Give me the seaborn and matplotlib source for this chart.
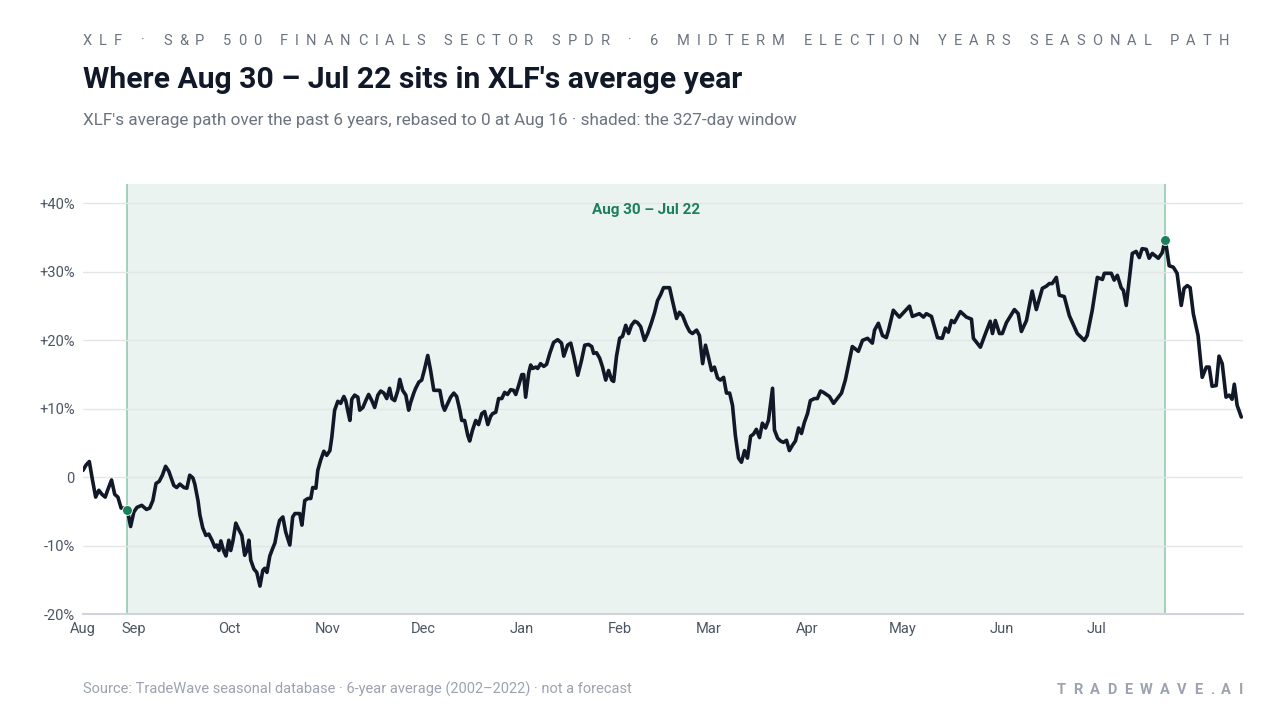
import numpy as np
import pandas as pd
import seaborn as sns
import matplotlib
matplotlib.use("Agg")
import matplotlib.pyplot as plt

# day offset from Aug 16, average % path
days = [0, 1, 2, 3, 4, 5, 6, 7, 8, 9, 10, 11, 12, 13.5, 14, 15, 16, 17, 18.5, 20, 21, 22, 23, 24, 25, 26, 27,
        28.6, 29.5, 30.5, 31.8, 32.7, 33.6, 34.6, 35.2, 36.2, 36.8, 37.7, 38.7, 39.6, 40.6, 41.5, 42.1, 42.8,
        43.4, 44.3, 45, 45.9, 46.5, 47.2, 48.1, 49.1, 50, 50.9, 51.6, 52.2, 52.8, 53.8, 54.7, 55.7, 56.6, 57.2,
        57.9, 58.8, 59.7, 60.4, 61.3, 61.9, 62.9, 63.8, 65.1, 66, 66.7, 68.2, 68.9, 69.8, 70.8, 71.7, 72.3,
        73.3, 73.9, 74.8, 75.8, 76.7, 77.7, 78.3, 79.2, 80.2, 81.1, 82.1, 82.7, 83.3, 84, 84.6, 85.5, 86.5,
        87.1, 88.1, 89, 89.9, 90.9, 91.8, 92.8, 93.7, 94.7, 95.6, 96.5, 97.2, 98.1, 99.1, 99.7, 100.6, 101.6,
        102.5, 103.1, 104.1, 104.7, 105.7, 106.6, 107.5, 108.5, 109.4, 110.4, 111.3, 112.3, 113.2, 113.8,
        114.8, 115.7, 116.7, 117.6, 118.6, 119.2, 120.1, 121.1, 121.7, 122.6, 123.6, 124.5, 125.5, 126.4,
        127.4, 128.3, 128.9, 129.9, 130.8, 131.8, 132.7, 133.6, 134.6, 135.5, 136.2, 137.1, 138.1, 138.7,
        139.3, 140.3, 140.9, 141.5, 142.5, 143.1, 144, 145, 145.9, 146.9, 148.1, 149.4, 150.6, 151.3, 152.5,
        153.5, 154.4, 155.7, 156.9, 157.9, 159.1, 160.1, 160.7, 161.6, 162.6, 163.5, 164.5, 165.4, 166.4,
        167, 167.9, 168.9, 169.8, 170.8, 171.7, 172.6, 173.6, 174.5, 175.5, 176.7, 177.7, 178.9, 179.9,
        180.8, 181.8, 182.7, 183.6, 184.6, 185.5, 186.8, 187.7, 188.7, 189.9, 190.9, 191.8, 193.1, 194,
        195, 195.9, 196.9, 197.8, 198.7, 199.7, 200.6, 201.6, 202.5, 203.5, 204.4, 205.3, 206.3, 207.2,
        208.2, 209.1, 210.1, 211, 211.9, 212.9, 213.8, 214.8, 215.7, 217, 217.6, 218.6, 219.5, 220.4, 221.4,
        222.3, 223.3, 224.2, 225.2, 226.1, 227, 228, 228.9, 230.2, 231.1, 232.1, 233, 234.9, 236.2, 238.7,
        239.9, 242.1, 244, 245.3, 246.9, 248.4, 249.1, 250.3, 251.6, 252.8, 253.5, 255, 256.9, 260.1, 261,
        263.2, 264.5, 265.4, 267, 268.9, 270.4, 271.4, 272.3, 273.3, 274.2, 276.1, 278, 279.6, 280.2, 282.4,
        284, 285.5, 286.2, 287.1, 288.4, 289.3, 290.6, 293.1, 294.3, 295.3, 296.9, 298.7, 300, 301.9, 303.1,
        304.1, 305, 306.3, 307.2, 308.8, 310.4, 312.9, 315.1, 316, 317.6, 319.2, 320.8, 321.4, 323.6, 324.5,
        325.5, 326.7, 327.4, 328.3, 330.2, 331.4, 332.4, 333.3, 334.6, 335.5, 336.5, 338.4, 339.6, 340.6,
        341.8, 343.1, 344.3, 345.6, 346.5, 347.5, 348.4, 349.4, 350.9, 352.2, 353.5, 354.4, 355.3, 356.6,
        357.5, 358.5, 359.7, 360.7, 361.6, 362.3, 363.2, 364.5]
values = [1.0, 1.8, 2.3, -0.4, -2.9, -1.9, -2.5, -2.9, -1.6, -0.4, -2.5, -2.9, -4.5, -4.5, -4.8, -7.2, -5.1,
          -4.4, -4.1, -4.7, -4.5, -3.4, -0.9, -0.6, 0.3, 1.6, 0.9, -1.2, -1.5, -1.0, -1.5, -1.6, 0.3, -0.1,
          -1.0, -3.4, -5.5, -7.4, -8.5, -8.3, -9.2, -10.2, -9.9, -10.7, -9.3, -10.8, -11.5, -9.2, -10.7, -9.3,
          -6.7, -7.7, -8.5, -11.4, -10.7, -9.2, -12.1, -13.4, -13.9, -15.9, -13.6, -13.3, -13.9, -11.5, -10.4,
          -9.6, -7.4, -6.3, -5.8, -8.0, -9.9, -5.8, -5.3, -5.3, -7.0, -3.4, -3.1, -3.1, -1.5, -1.6, 1.0, 2.5,
          3.8, 3.2, 3.9, 5.8, 9.8, 11.1, 10.8, 11.8, 11.2, 9.8, 8.3, 11.4, 12.0, 11.7, 9.8, 10.2, 11.2, 12.1,
          11.2, 10.2, 12.0, 12.6, 12.3, 11.5, 13.0, 11.5, 11.2, 12.7, 14.3, 12.7, 12.0, 9.8, 10.9, 12.3, 13.0,
          13.9, 14.2, 15.8, 17.8, 15.6, 12.7, 12.7, 12.7, 10.5, 9.8, 10.8, 11.7, 12.3, 11.8, 9.8, 8.3, 8.3,
          6.1, 5.3, 6.9, 8.3, 7.7, 9.3, 9.6, 7.7, 8.9, 9.3, 9.5, 11.5, 11.5, 12.4, 12.1, 12.8, 12.7, 12.1,
          13.4, 15.0, 15.0, 11.7, 15.3, 16.4, 15.9, 16.1, 15.9, 16.6, 16.2, 16.5, 18.1, 19.7, 20.1, 19.6, 17.7,
          19.3, 19.6, 17.8, 14.9, 17.1, 19.3, 19.4, 19.1, 18.1, 18.2, 17.4, 16.1, 14.2, 15.6, 14.2, 14.0, 17.7,
          20.3, 20.6, 22.2, 21.0, 22.2, 22.8, 22.6, 22.0, 20.0, 21.0, 22.6, 24.1, 25.8, 26.7, 27.7, 27.7, 27.7,
          25.8, 23.2, 24.1, 23.6, 22.2, 21.3, 21.0, 21.5, 20.7, 16.6, 19.3, 17.4, 15.6, 16.1, 14.5, 14.2, 14.6,
          12.3, 12.3, 10.5, 6.1, 2.8, 2.2, 3.9, 2.8, 6.0, 6.3, 7.0, 5.8, 7.9, 7.2, 8.3, 13.0, 6.9, 5.7, 5.3,
          5.1, 5.4, 3.9, 4.7, 5.3, 7.2, 6.4, 8.0, 9.3, 11.2, 11.5, 11.5, 12.6, 12.4, 11.8, 10.8, 12.3, 14.2,
          19.1, 18.4, 20.0, 20.3, 19.6, 21.5, 22.5, 20.7, 20.4, 21.5, 24.4, 23.4, 25.0, 23.5, 23.9, 23.4, 23.9,
          23.5, 20.4, 20.3, 21.8, 21.2, 22.9, 22.6, 24.2, 23.4, 23.1, 20.3, 19.0, 21.0, 22.8, 21.0, 22.9, 21.0,
          21.0, 22.6, 24.5, 23.9, 21.3, 22.9, 27.2, 24.5, 27.6, 27.9, 28.3, 28.3, 29.2, 26.6, 26.4, 23.6, 21.0,
          20.0, 20.7, 24.4, 29.2, 28.9, 29.8, 29.8, 28.8, 29.5, 27.7, 27.3, 25.1, 32.7, 33.0, 32.1, 33.4, 33.3,
          32.0, 32.7, 32.0, 32.8, 34.7, 30.9, 30.7, 29.8, 25.1, 27.6, 28.0, 27.7, 23.9, 20.7, 14.6, 16.1, 16.1,
          13.3, 13.4, 17.7, 16.6, 11.7, 12.0, 11.4, 13.6, 10.5, 8.8]

month_days = [0, 16, 46, 77, 107, 138, 169, 197, 228, 258, 289, 319]
month_labels = ["Aug", "Sep", "Oct", "Nov", "Dec", "Jan", "Feb", "Mar", "Apr", "May", "Jun", "Jul"]
y_ticks = [-20, -10, 0, 10, 20, 30, 40]
y_labels = ["-20%", "-10%", "0", "+10%", "+20%", "+30%", "+40%"]
win_start, win_end = 14, 340.6

header = "XLF · S&P 500 FINANCIALS SECTOR SPDR · 6 MIDTERM ELECTION YEARS SEASONAL PATH"
brand = "TRADEWAVE.AI"

df = pd.DataFrame({"day": days, "pct": values})

sns.set_theme(style="white")
plt.rcParams["font.family"] = ["Roboto", "DejaVu Sans"]

fig = plt.figure(figsize=(12.8, 7.2), dpi=100)
ax = fig.add_axes([0.0648, 0.147, 0.9062, 0.597])
renderer = fig.canvas.get_renderer()


def tracked_text(x_px, y_px, s, tracking, align="left", **kw):
    # letter-spaced text, placed char by char in pixel coords
    widths = []
    for ch in s:
        t = fig.text(0, 0, ch if ch != " " else "n", **kw)
        w = t.get_window_extent(renderer).width
        t.remove()
        widths.append(w * (0.55 if ch == " " else 1))
    total = sum(widths) + tracking * (len(s) - 1)
    x = x_px if align == "left" else x_px - total
    for ch, w in zip(s, widths):
        fig.text(x / 1280, 1 - y_px / 720, ch, va="center", **kw)
        x += w + tracking


green = "#1a7f5a"
ax.axvspan(win_start, win_end, color="#eaf3ef", zorder=0, lw=0)
for d in (win_start, win_end):
    ax.axvline(d, color="#8cc5ab", lw=1.1, zorder=1)
for t in y_ticks:
    ax.axhline(t, color="#e2e6e8", lw=1, zorder=1)

sns.lineplot(data=df, x="day", y="pct", ax=ax, color="#111827", lw=2.6, zorder=3)
mk = df[df["day"].isin([win_start, win_end])]
ax.scatter(mk["day"], mk["pct"], s=50, color=green, zorder=5, edgecolor="white", linewidth=0.6)
ax.text((win_start + win_end) / 2, 39.0, "Aug 30 – Jul 22", color=green, fontsize=11, fontweight="bold",
        ha="center", va="center")

ax.set_xlim(0, 365)
ax.set_ylim(-20, 42.8)
ax.set_xticks(month_days)
ax.set_xticklabels(month_labels)
ax.set_yticks(y_ticks)
ax.set_yticklabels(y_labels)
ax.tick_params(axis="both", length=0, labelsize=10.5, labelcolor="#4b5563", pad=6)
ax.set_xlabel("")
ax.set_ylabel("")
for s in ["top", "right", "left"]:
    ax.spines[s].set_visible(False)
ax.spines["bottom"].set_color("#d1d5db")
ax.spines["bottom"].set_linewidth(1.5)

tracked_text(83, 41, header, 7.05, fontsize=10.5, color="#6b7280")
fig.text(0.0648, 0.889, "Where Aug 30 – Jul 22 sits in XLF's average year", fontsize=21.7, fontweight="bold",
         color="#111827", va="center")
fig.text(0.0648, 0.833, "XLF's average path over the past 6 years, rebased to 0 at Aug 16 · shaded: the 327-day window",
         fontsize=12.3, color="#6b7280", va="center")
fig.text(0.0648, 0.042, "Source: TradeWave seasonal database · 6-year average (2002–2022) · not a forecast",
         fontsize=10.5, color="#9ca3af", va="center")
tracked_text(1243, 690, brand, 7.4, align="right", fontsize=10.5, color="#9ca3af", fontweight="bold")

fig.savefig("out.png", dpi=100)
